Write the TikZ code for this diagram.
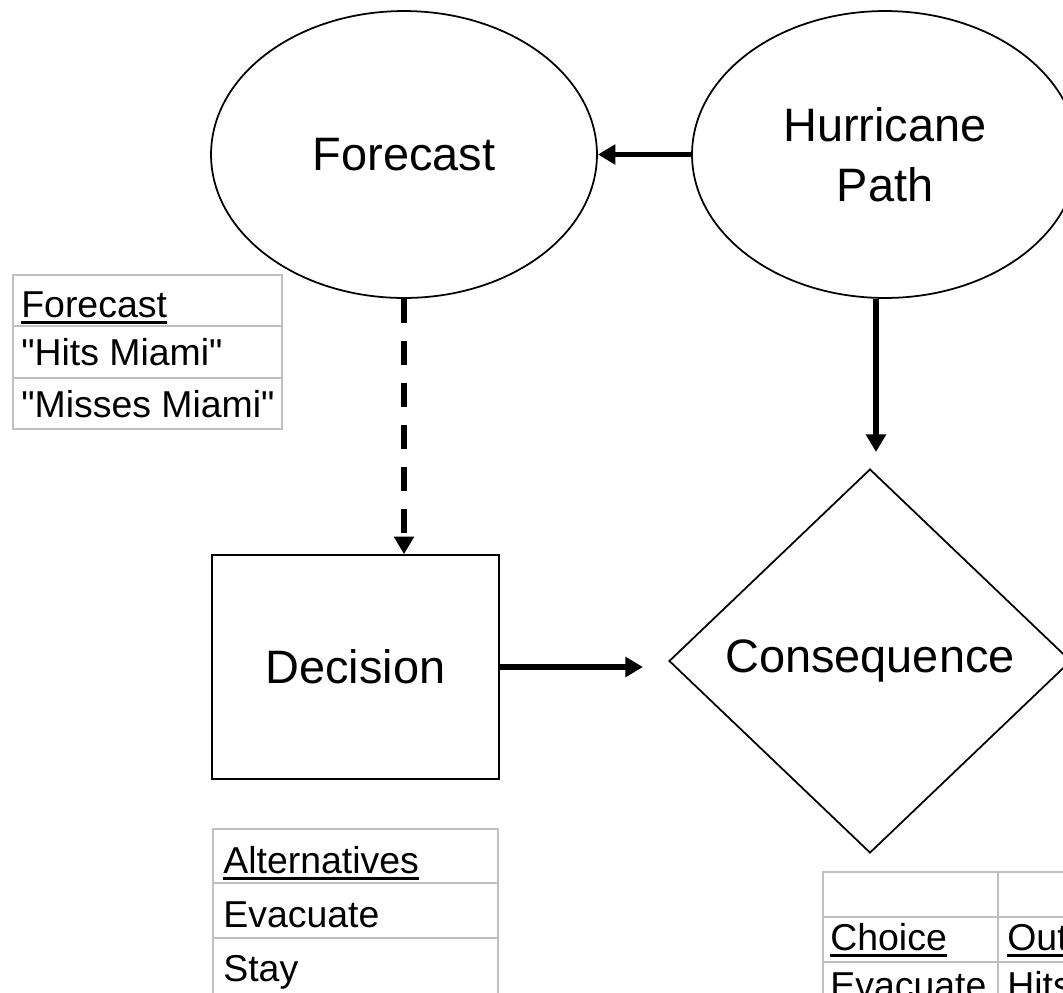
\documentclass[tikz,border=0pt]{standalone}
\usepackage{fontspec}
\setmainfont{Liberation Sans}
\newfontfamily\qfont{Liberation Sans}
\usetikzlibrary{shapes.geometric,arrows.meta}
\definecolor{tblgray}{HTML}{C0C0C0}
\newcommand\ulx[1]{\setbox0\hbox{#1}\rlap{\rule[-3.8pt]{\wd0}{1.7pt}}\box0}
\newcommand\sq{{\qfont\symbol{34}}}
\begin{document}
\begin{tikzpicture}[x=0.02cm,y=-0.02cm,
  mainfont/.style={font=\fontsize{26.7}{34}\selectfont},
  tblfont/.style={font=\fontsize{21.3}{25}\selectfont},
  chance/.style={ellipse,draw,line width=1pt,minimum width=7.72cm,minimum height=5.74cm,inner sep=0pt,mainfont,align=center},
  decbox/.style={rectangle,draw,line width=1pt,minimum width=5.74cm,minimum height=4.48cm,inner sep=0pt,mainfont},
  valnode/.style={diamond,draw,line width=1pt,minimum width=8.04cm,minimum height=7.68cm,inner sep=0pt,mainfont},
  link/.style={line width=3.2pt,-{Triangle[length=10pt,width=11pt]}},
  dlink/.style={link,dash pattern=on 13.7pt off 10.2pt},
  tbl/.style={draw=tblgray,line width=1.6pt},
  tblline/.style={draw=tblgray,line width=1.2pt},
  cell/.style={anchor=base west,inner sep=0pt,tblfont}
]
\useasboundingbox (0,0) rectangle (1063,992);
\clip (0,0) rectangle (1063,992);
\fill[white] (0,0) rectangle (1063,992);

% nodes
\node[chance] (fc) at (404,154.5) {Forecast};
\node[chance] (hur) at (885,154.5) {Hurricane\\Path};
\node[decbox] (dec) at (355.5,667) {Decision};
\node[valnode] (cons) at (870,661) {Consequence};

% connectors
\coordinate (cin) at (643,667);
\coordinate (hc) at (876,452);
\draw[link] (hur) -- (fc);
\draw[dlink] (fc.south) -- (fc.south |- dec.north);
\draw[link] (dec.east) -- (cin);
\draw[link] (hc |- hur.south) -- (hc);

% Forecast table
\draw[tbl] (13,275) rectangle (282,429);
\draw[tblline] (13,326) -- (282,326);
\draw[tblline] (13,378) -- (282,378);
\node[cell] (f1) at (21,317) {\ulx{Forecast}};
\node[cell] (f2) at (21,365) {\sq Hits Miami\sq};
\node[cell] (f3) at (21,417) {\sq Misses Miami\sq};

% Alternatives table
\draw[tbl] (213,829) rectangle (498,1010);
\draw[tblline] (213,883) -- (498,883);
\draw[tblline] (213,938) -- (498,938);
\node[cell] (a1) at (223,873) {\ulx{Alternatives}};
\node[cell] (a2) at (223,927) {Evacuate};
\node[cell] (a3) at (223,981) {Stay};

% Consequence table
\draw[tbl] (823,872) rectangle (1200,1020);
\draw[tblline] (998,872) -- (998,1020);
\draw[tblline] (823,917) -- (1200,917);
\draw[tblline] (823,962) -- (1200,962);
\node[cell] (c1) at (830,950) {\ulx{Choice}};
\node[cell] (c2) at (1007,950) {\ulx{Outcome}};
\node[cell] (c3) at (830,998) {Evacuate};
\node[cell] (c4) at (1007,998) {Hits Miami};
\end{tikzpicture}
\end{document}
